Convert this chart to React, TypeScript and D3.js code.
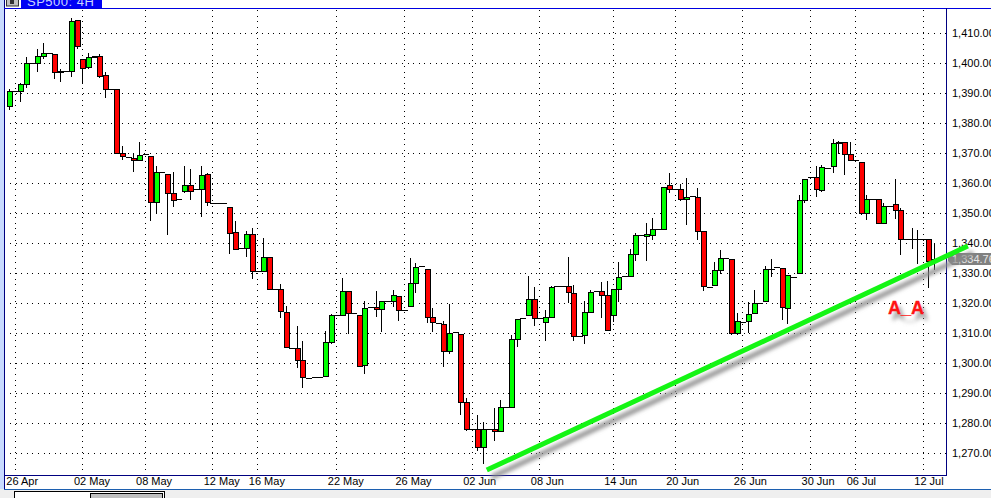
import React from 'react';
import * as d3 from 'd3';

const width = 991;
const height = 498;

// SP500 4H candles
const opens = [
  1385.7, 1390.7, 1390.7, 1393.0, 1400.0, 1400.0, 1402.3, 1403.3, 1403.0, 1397.0,
  1397.5, 1397.5, 1414.3, 1401.3, 1398.7, 1402.0, 1402.3, 1396.0, 1391.3, 1391.3,
  1370.0, 1368.9, 1368.5, 1367.9, 1369.7, 1369.0, 1353.9, 1363.7, 1363.0, 1356.7,
  1354.7, 1357.3, 1359.5, 1358.0, 1358.0, 1363.0, 1353.3, 1353.3, 1353.3, 1352.0,
  1343.7, 1338.3, 1338.3, 1343.0, 1330.7, 1330.7, 1335.4, 1324.9, 1324.7, 1317.0,
  1305.0, 1305.0, 1301.0, 1295.1, 1295.3, 1295.3, 1295.7, 1307.0, 1316.0, 1316.0,
  1324.0, 1316.9, 1316.0, 1299.3, 1318.9, 1318.7, 1318.0, 1320.7, 1320.7, 1322.3,
  1317.7, 1319.0, 1326.7, 1332.4, 1331.3, 1315.3, 1313.3, 1313.1, 1304.0, 1310.5,
  1309.9, 1287.0, 1278.0, 1278.2, 1272.0, 1278.2, 1278.0, 1277.6, 1285.5, 1285.6,
  1308.0, 1315.0, 1316.0, 1321.3, 1315.0, 1313.7, 1315.3, 1325.7, 1325.7, 1325.7,
  1323.3, 1309.1, 1309.3, 1317.0, 1324.1, 1324.0, 1322.7, 1316.2, 1324.7, 1329.1,
  1329.2, 1336.5, 1342.7, 1342.3, 1342.7, 1344.7, 1344.7, 1359.3, 1358.0, 1358.0,
  1354.7, 1355.7, 1355.3, 1344.0, 1325.5, 1326.0, 1331.0, 1335.2, 1334.9, 1310.0,
  1313.7, 1314.0, 1316.7, 1320.2, 1320.7, 1331.5, 1332.0, 1331.7, 1318.3, 1328.9,
  1330.0, 1354.3, 1362.0, 1362.2, 1357.7, 1365.2, 1365.7, 1373.3, 1373.7, 1369.8,
  1367.7, 1367.0, 1350.0, 1354.7, 1354.7, 1346.7, 1352.3, 1353.0, 1351.0, 1341.3,
  1341.5, 1341.6, 1341.5, 1341.3, 1334.1,
];
const highs = [
  1391.4, 1390.7, 1393.3, 1402.1, 1400.0, 1404.7, 1406.8, 1403.3, 1403.0, 1398.0,
  1397.5, 1415.0, 1414.3, 1401.3, 1403.4, 1402.3, 1403.1, 1397.0, 1391.3, 1391.3,
  1372.4, 1368.9, 1370.0, 1373.8, 1369.7, 1369.0, 1365.8, 1363.7, 1363.0, 1363.7,
  1354.7, 1365.8, 1364.8, 1358.0, 1365.8, 1363.3, 1353.3, 1353.3, 1353.3, 1352.0,
  1347.4, 1338.3, 1344.0, 1345.1, 1330.7, 1341.8, 1335.4, 1324.9, 1326.4, 1319.0,
  1305.0, 1312.4, 1307.4, 1295.1, 1295.3, 1295.3, 1310.8, 1316.4, 1316.0, 1328.4,
  1324.0, 1316.9, 1316.0, 1320.7, 1318.9, 1324.1, 1320.7, 1320.7, 1324.4, 1322.3,
  1317.7, 1335.1, 1333.3, 1332.4, 1331.3, 1318.4, 1313.3, 1314.0, 1319.8, 1310.5,
  1309.9, 1288.3, 1278.0, 1282.8, 1280.3, 1278.2, 1285.1, 1287.8, 1285.5, 1309.4,
  1314.7, 1315.0, 1329.0, 1325.4, 1315.0, 1317.8, 1325.8, 1325.7, 1325.7, 1335.4,
  1326.0, 1309.1, 1320.8, 1324.3, 1324.1, 1327.1, 1327.4, 1324.7, 1333.8, 1329.1,
  1338.0, 1343.3, 1342.7, 1346.8, 1348.3, 1344.7, 1358.9, 1363.3, 1358.0, 1359.8,
  1361.8, 1355.7, 1358.4, 1344.0, 1325.5, 1333.8, 1337.8, 1335.2, 1334.9, 1316.7,
  1313.7, 1320.3, 1324.3, 1320.2, 1332.4, 1334.7, 1332.0, 1331.7, 1329.3, 1328.9,
  1356.1, 1361.5, 1362.0, 1365.9, 1366.1, 1365.2, 1374.7, 1374.2, 1373.7, 1373.7,
  1367.7, 1367.0, 1356.1, 1354.7, 1354.7, 1353.3, 1352.3, 1361.5, 1351.7, 1341.3,
  1345.1, 1344.5, 1341.5, 1341.3, 1340.1,
];
const lows = [
  1384.5, 1390.7, 1387.2, 1391.7, 1400.0, 1397.1, 1401.5, 1403.3, 1394.9, 1393.9,
  1397.5, 1395.5, 1404.9, 1393.3, 1398.0, 1402.0, 1395.2, 1388.5, 1391.3, 1370.0,
  1367.9, 1368.9, 1363.9, 1367.9, 1369.7, 1347.5, 1349.9, 1363.7, 1342.9, 1352.2,
  1354.7, 1356.9, 1354.5, 1358.0, 1348.9, 1352.5, 1353.3, 1353.3, 1353.3, 1336.4,
  1338.0, 1338.3, 1335.5, 1328.2, 1330.7, 1330.7, 1324.7, 1324.9, 1315.0, 1305.3,
  1305.0, 1298.5, 1291.9, 1295.1, 1295.3, 1295.3, 1295.7, 1306.4, 1316.0, 1316.0,
  1309.9, 1316.9, 1299.2, 1296.4, 1318.9, 1315.4, 1310.4, 1320.7, 1318.9, 1314.2,
  1317.7, 1319.0, 1323.3, 1332.4, 1313.3, 1310.5, 1313.3, 1298.9, 1303.2, 1310.5,
  1282.8, 1277.4, 1278.0, 1270.9, 1266.4, 1278.2, 1274.1, 1277.6, 1285.5, 1285.6,
  1305.5, 1315.0, 1316.0, 1312.5, 1315.0, 1307.5, 1315.3, 1325.7, 1325.7, 1320.0,
  1307.5, 1309.1, 1306.5, 1317.0, 1324.1, 1315.1, 1311.2, 1313.8, 1320.4, 1329.1,
  1329.2, 1334.2, 1342.7, 1334.2, 1341.2, 1344.7, 1344.7, 1356.9, 1358.0, 1354.2,
  1346.2, 1355.7, 1341.1, 1324.1, 1325.5, 1326.0, 1329.8, 1335.2, 1309.5, 1309.4,
  1313.7, 1310.0, 1316.7, 1320.2, 1320.7, 1328.7, 1332.0, 1314.4, 1313.2, 1328.9,
  1330.0, 1353.3, 1362.0, 1355.5, 1357.2, 1365.2, 1363.3, 1369.7, 1362.8, 1367.7,
  1367.7, 1349.4, 1347.8, 1354.7, 1346.7, 1346.7, 1352.3, 1348.0, 1336.2, 1341.3,
  1338.2, 1333.1, 1341.5, 1325.2, 1331.1,
];
const closes = [
  1390.7, 1390.7, 1393.0, 1400.0, 1400.0, 1402.3, 1403.3, 1403.3, 1397.0, 1397.5,
  1397.5, 1414.0, 1405.7, 1398.3, 1402.0, 1402.3, 1395.9, 1391.3, 1391.3, 1370.0,
  1369.0, 1368.9, 1367.9, 1369.3, 1369.7, 1353.7, 1363.7, 1363.7, 1356.7, 1354.3,
  1354.7, 1359.5, 1357.3, 1358.0, 1362.7, 1353.7, 1353.3, 1353.3, 1353.3, 1343.5,
  1338.0, 1338.3, 1343.0, 1330.7, 1330.7, 1335.4, 1324.7, 1324.9, 1317.3, 1305.3,
  1305.0, 1301.0, 1295.3, 1295.1, 1295.3, 1295.3, 1307.0, 1316.0, 1316.0, 1324.0,
  1316.7, 1316.9, 1299.2, 1318.5, 1318.9, 1318.0, 1320.7, 1320.7, 1322.7, 1317.7,
  1317.7, 1326.7, 1332.0, 1332.4, 1315.3, 1313.7, 1313.3, 1304.0, 1310.2, 1310.5,
  1287.0, 1278.0, 1278.0, 1272.0, 1278.2, 1278.2, 1277.6, 1285.6, 1285.5, 1308.0,
  1314.7, 1315.0, 1321.3, 1315.0, 1315.0, 1315.3, 1325.3, 1325.7, 1325.7, 1323.7,
  1309.1, 1309.1, 1317.0, 1323.7, 1324.1, 1322.7, 1311.2, 1324.7, 1328.7, 1329.1,
  1336.3, 1342.9, 1342.7, 1343.0, 1344.7, 1344.7, 1358.9, 1358.0, 1358.0, 1354.7,
  1355.3, 1355.7, 1344.0, 1325.7, 1325.5, 1331.0, 1335.2, 1335.2, 1310.0, 1314.0,
  1313.7, 1316.5, 1320.2, 1320.2, 1331.3, 1331.5, 1332.0, 1318.7, 1329.3, 1328.9,
  1354.3, 1361.5, 1362.0, 1358.0, 1365.3, 1365.2, 1373.3, 1373.9, 1369.8, 1367.7,
  1367.7, 1350.0, 1354.7, 1354.7, 1346.7, 1352.3, 1352.3, 1351.0, 1341.3, 1341.3,
  1341.5, 1341.6, 1341.5, 1334.1, 1334.76,
];

const dateLabels = ['26 Apr', '02 May', '08 May', '12 May', '16 May', '22 May', '26 May', '02 Jun', '08 Jun', '14 Jun', '20 Jun', '26 Jun', '30 Jun', '06 Jul', '12 Jul'];
const dateIndex = [1, 13, 24, 36, 44, 58, 70, 82, 94, 107, 118, 130, 142, 150, 162];
const priceTicks = [1410, 1400, 1390, 1380, 1370, 1360, 1350, 1340, 1330, 1320, 1310, 1300, 1290, 1280, 1270];
const lastPrice = 1334.76;

// trend line drawn by hand on the chart (bar index, price)
const trendIndex = [84.6, 169.9];
const trendPrice = [1264.4, 1339.1];

const x = d3.scaleLinear().domain([0, 164]).range([9.66, 934.6]);
const y = d3.scaleLinear().domain([1410, 1270]).range([33.3, 453.3]);
const px = (v: number) => Math.floor(v) + 0.5;
const fmt = d3.format(',.2f');

const uiFont = '"Liberation Sans", Arial, sans-serif';
const navy = '#000080';

const App: React.FC = () => {
  const trendLine = d3.line<number>().x((d) => x(d)).y((_, i) => y(trendPrice[i]))(trendIndex) || '';
  const tagY = y(lastPrice);

  return (
    <svg width={width} height={height} viewBox={`0 0 ${width} ${height}`} style={{ position: 'fixed', left: 0, top: 0, display: 'block', background: '#fff' }}>
      <defs>
        <filter id="soft" x="-10%" y="-30%" width="120%" height="160%">
          <feGaussianBlur stdDeviation="2.2" />
        </filter>
      </defs>

      {/* window chrome */}
      <rect x={0} y={0} width={4} height={489} fill="#c9dbff" />
      <rect x={0} y={489} width={width} height={9} fill="#efefef" />
      <rect x={21} y={0} width={81} height={8} fill="#0000f5" />
      <text x={27} y={5.5} fontFamily={uiFont} fontSize={13} fill="#c8d4ff" letterSpacing={0.5}>SP500: 4H</text>
      <rect x={6.5} y={-2} width={12} height={8} fill="#c0c0c0" stroke="#333" />
      <rect x={10} y={0} width={4} height={4} fill="#333" />

      {/* grid */}
      <g stroke="#000" shapeRendering="crispEdges">
        {priceTicks.map((p) => (
          <line key={p} x1={10} x2={946} y1={px(y(p))} y2={px(y(p))} strokeDasharray="1 4.6" />
        ))}
        {dateIndex.map((d) => (
          <line key={d} x1={px(x(d))} x2={px(x(d))} y1={10} y2={475} strokeDasharray="1 4.6" />
        ))}
      </g>

      {/* candles */}
      <g shapeRendering="crispEdges" stroke="#000">
        {closes.map((c, i) => {
          const cx = px(x(i));
          const top = Math.round(y(Math.max(opens[i], c)));
          const bottom = Math.round(y(Math.min(opens[i], c)));
          return (
            <g key={i}>
              <line x1={cx} x2={cx} y1={y(highs[i])} y2={y(lows[i])} />
              {bottom - top < 1 ? (
                <line x1={cx - 3} x2={cx + 3} y1={top + 0.5} y2={top + 0.5} />
              ) : (
                <rect x={cx - 2} y={top + 0.5} width={5} height={bottom - top} fill={c >= opens[i] ? '#00ff00' : '#ff0000'} />
              )}
            </g>
          );
        })}
      </g>

      {/* axes */}
      <g stroke={navy} shapeRendering="crispEdges">
        <line x1={4.5} x2={4.5} y1={0} y2={489} />
        <line x1={4} x2={width} y1={8.5} y2={8.5} stroke="#0000e0" />
        <line x1={4} x2={946} y1={475.5} y2={475.5} />
        <line x1={946.5} x2={946.5} y1={8} y2={476} />
        <line x1={4} x2={width} y1={489.5} y2={489.5} stroke="#1c5fb0" />
      </g>
      <g fontFamily={uiFont} fontSize={11} fill="#000">
        {priceTicks.map((p) => (
          <text key={p} x={952} y={y(p) + 4}>{fmt(p)}</text>
        ))}
        {dateIndex.map((d, i) => (
          <text key={d} x={x(d) - 9} y={485}>{dateLabels[i]}</text>
        ))}
      </g>

      {/* scroller thumbnail at the bottom */}
      <rect x={14.5} y={491.5} width={150} height={10} fill="#fff" stroke="#000" shapeRendering="crispEdges" />
      <rect x={90.5} y={493.5} width={72} height={10} fill="#c0c0c0" stroke="#000" shapeRendering="crispEdges" />

      {/* last price tag */}
      <path
        d={`M948,${tagY - 2} L952,${tagY - 6} H991 V${tagY + 6} H952 L948,${tagY + 2} Z`}
        fill="#808080"
      />
      <text x={952} y={tagY + 4} fontFamily={uiFont} fontSize={11} fill="#e8e8e8">{fmt(lastPrice)}</text>

      {/* trend line with drop shadow */}
      <path d={trendLine} transform="translate(5,7)" fill="none" stroke="#8a8a8a" strokeWidth={4.5} filter="url(#soft)" />
      <path d={trendLine} fill="none" stroke="#14f514" strokeWidth={5} />

      {/* A_A note */}
      <text x={892} y={320} fontFamily={uiFont} fontSize={18} fontWeight="bold" fill="#8a8a8a" filter="url(#soft)">A_A</text>
      <text x={888} y={314} fontFamily={uiFont} fontSize={18} fontWeight="bold" fill="#ff1414" stroke="#ff1414" strokeWidth={0.3}>A_A</text>
    </svg>
  );
};

export default App;
